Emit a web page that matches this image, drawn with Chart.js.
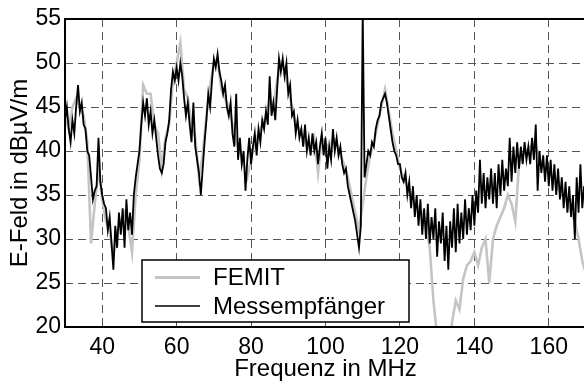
<!DOCTYPE html>
<html>
<head>
<meta charset="utf-8">
<script src="https://cdn.jsdelivr.net/npm/chart.js@4.4.0/dist/chart.umd.min.js"></script>
<style>
html,body{margin:0;padding:0;background:#fff;overflow:hidden;width:584px;height:381px;}
#wrap{position:relative;width:600px;height:381px;}
</style>
</head>
<body>
<div id="wrap"><canvas id="c" width="600" height="381"></canvas></div>
<script>
// Frequency sampling (MHz)
const messStart = 30, messStep = 0.5;
const femitStart = 30, femitStep = 1;
const xTicks = [40, 60, 80, 100, 120, 140, 160];
const yTicks = [20, 25, 30, 35, 40, 45, 50, 55];

// Messempfänger (black), 30..170 MHz every 0.5 MHz, dBµV/m
const messValues = [
  43.5, 45, 42.5, 41, 43.5, 42, 45, 47.5, 44.5, 45.5,
  43, 42.5, 40, 39.5, 37, 34.5, 35.5, 36, 41.5, 36.5,
  35, 34, 33.5, 31, 32.5, 29.5, 26.5, 31.5, 29, 33,
  30.5, 33.5, 29, 34.5, 31, 33, 30.5, 35, 37, 38.5,
  40, 43, 45.5, 44, 46, 43, 44.5, 42, 43.5, 41.5,
  39.5, 38, 37.5, 38.5, 41, 42, 43.5, 47, 49, 48,
  49.5, 48, 50, 48.5, 46, 44, 45.5, 43, 41, 45.5,
  40.5, 39, 37.5, 35, 38, 41, 43.5, 46.5, 45, 48,
  50.5, 49.5, 51, 49, 48, 46.5, 47.5, 45, 44, 45.5,
  42, 40.5, 46.5, 39, 41.5, 38.5, 40, 35.5, 39, 41.5,
  38.5, 40.5, 42, 39.5, 42.5, 41, 43.5, 42.5, 44.5, 43,
  48.5, 44, 45.5, 43.5, 47, 50.5, 49, 50.5, 48.5, 50,
  46.5, 47.5, 44, 44.5, 42, 43.5, 41.5, 42.5, 40.5, 43,
  40, 41.5, 39.5, 42, 40, 41, 38.5, 40.5, 42, 39.5,
  41.5, 38, 40.5, 39, 42.5, 40, 41.5, 39.5, 40.5, 38.5,
  37.5, 38, 36, 35, 34, 33, 32, 30.5, 29, 31.5,
  56, 37, 38.5, 40, 39.5, 41, 40.5, 42.5, 43.5, 44,
  45.5, 46, 46.5, 45.5, 44, 42.5, 41, 40, 39.5, 38.5,
  38.5, 37, 36.5, 37.5, 35, 36.5, 33.5, 36, 32.5, 35,
  31.5, 34.5, 30.5, 33.5, 30, 34, 29.5, 32.5, 30, 33.5,
  28, 32, 29.5, 33, 27.5, 31.5, 26.5, 32, 29, 33.5,
  28.5, 34, 29.5, 33, 30, 34.5, 30.5, 33.5, 31, 35,
  31.5, 35.5, 33, 39, 34, 37.5, 33.5, 37, 34.5, 38,
  34, 37.5, 33.5, 38.5, 35, 39, 35.5, 38, 36, 41.5,
  36.5, 40.5, 37.5, 41, 38, 40.5, 38.5, 41, 39, 40.5,
  38.5, 41.5, 39, 43, 35.5, 40, 37.5, 39.5, 36.5, 39.5,
  36, 39, 35.5, 38.5, 35, 38, 34.5, 37, 33.5, 36.5,
  33, 36, 32.5, 35, 30, 37, 33, 38.5, 33.5, 36,
  34
];

// FEMIT (grey), 30..170 MHz every 1 MHz, dBµV/m
const femitValues = [
  44, 42.5, 45, 46, 45, 44, 41, 29.5, 34, 38,
  34.5, 32, 31, 28, 31, 32, 33, 31.5, 28.5, 35,
  39, 47.5, 46.5, 46.5, 43, 42, 38, 41.5, 43, 48,
  50, 52.3, 47, 46, 43, 41.5, 37, 39.5, 44, 47.5,
  50, 50.5, 47, 46, 45, 43, 41, 40, 38.5, 37,
  39, 41, 42, 43, 44, 46, 45, 48, 50, 49,
  47, 45, 43, 42.5, 41.5, 40.5, 40, 41.5, 37.5, 41.5,
  41, 40, 41.5, 41, 39.5, 38.5, 37, 35, 33, 31,
  34, 37, 39.5, 41, 43, 45, 47, 44.5, 42, 40,
  38, 37, 36, 35, 34, 33.5, 33, 32, 29, 23,
  19, 17, 16, 18, 20.5, 23, 22, 25.5, 27, 27.5,
  28.5, 27, 29, 30, 25, 30, 31.5, 32.5, 33.5, 35,
  34, 32, 38.5, 39.5, 40, 40.5, 41, 40, 38.5, 38,
  37.5, 37, 36, 35.5, 35, 34, 33, 32, 30, 27.5,
  26
];

const messPoints = messValues.map((v, i) => ({x: messStart + i * messStep, y: v}));
const femitPoints = femitValues.map((v, i) => ({x: femitStart + i * femitStep, y: v}));

const FONT = '"Liberation Sans", Arial, Helvetica, sans-serif';

const framePlugin = {
  id: 'frame',
  afterDatasetsDraw(chart) {
    const {ctx, chartArea: a} = chart;
    ctx.save();
    ctx.strokeStyle = '#000';
    ctx.lineWidth = 2;
    ctx.setLineDash([]);
    ctx.beginPath();
    ctx.rect(a.left, a.top, a.right - a.left, a.bottom - a.top);
    ctx.stroke();
    // legend box
    const bx = 142, by = 260, bw = 267, bh = 62;
    ctx.fillStyle = '#fff';
    ctx.fillRect(bx, by, bw, bh);
    ctx.lineWidth = 1.5;
    ctx.strokeRect(bx, by, bw, bh);
    const items = [
      {ds: chart.data.datasets[1], y: 277.5},
      {ds: chart.data.datasets[0], y: 306}
    ];
    ctx.font = '24px ' + FONT;
    ctx.textBaseline = 'middle';
    ctx.textAlign = 'left';
    items.forEach(it => {
      ctx.strokeStyle = it.ds.borderColor;
      ctx.lineWidth = it.ds.legendWidth;
      ctx.beginPath();
      ctx.moveTo(155, it.y);
      ctx.lineTo(200, it.y);
      ctx.stroke();
      ctx.fillStyle = '#000';
      ctx.fillText(it.ds.label, 213, it.y + 1);
    });
    ctx.restore();
  }
};

new Chart(document.getElementById('c'), {
  type: 'line',
  data: {
    datasets: [
      {label: 'Messempfänger', data: messPoints, borderColor: '#000', borderWidth: 1.8, legendWidth: 1.6, pointRadius: 0, tension: 0, order: 0, clip: 0},
      {label: 'FEMIT', data: femitPoints, borderColor: '#c4c4c4', borderWidth: 2.6, legendWidth: 3, pointRadius: 0, tension: 0, order: 1, clip: 0}
    ]
  },
  options: {
    responsive: false,
    animation: false,
    events: [],
    layout: {padding: {left: 0, right: 14, top: 19, bottom: 0}},
    plugins: {legend: {display: false}, tooltip: {enabled: false}},
    scales: {
      x: {
        type: 'linear', min: 30, max: 170,
        afterBuildTicks: s => { s.ticks = xTicks.map(v => ({value: v})); },
        afterFit: s => { s.height = 54; },
        grid: {color: '#555', lineWidth: 1, drawTicks: false},
        border: {display: false, dash: [8, 5]},
        ticks: {color: '#000', padding: 7, maxRotation: 0, font: {family: FONT, size: 23}},
        title: {display: true, text: 'Frequenz in MHz', color: '#000', padding: {top: 0, bottom: 0}, font: {family: FONT, size: 24, lineHeight: 1.0}}
      },
      y: {
        type: 'linear', min: 20, max: 55,
        afterBuildTicks: s => { s.ticks = yTicks.map(v => ({value: v})); },
        afterFit: s => { s.width = 65; },
        grid: {color: '#555', lineWidth: 1, drawTicks: false},
        border: {display: false, dash: [8, 5]},
        ticks: {color: '#000', padding: 4, font: {family: FONT, size: 23}},
        title: {display: true, text: 'E-Feld in dBµV/m', color: '#000', padding: {top: 6, bottom: 0}, font: {family: FONT, size: 24}}
      }
    }
  },
  plugins: [framePlugin]
});
</script>
</body>
</html>
